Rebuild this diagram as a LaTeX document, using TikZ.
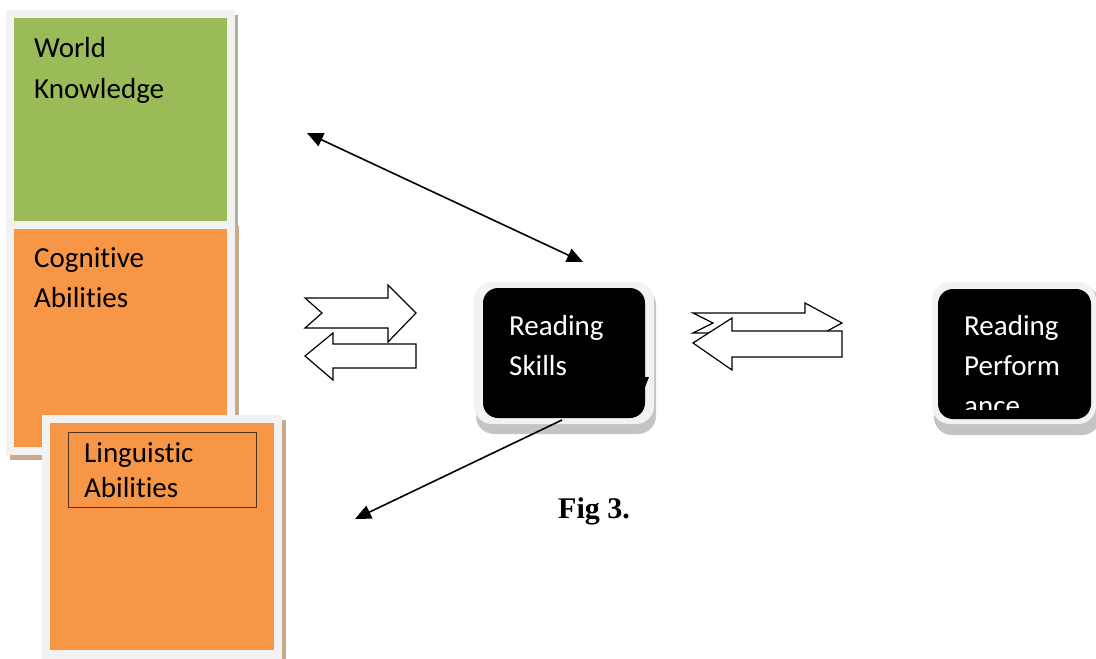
\documentclass[tikz,border=0pt]{standalone}
\usepackage{fontspec}
\setmainfont{Carlito}[Ligatures={NoCommon,NoRequired,NoContextual,NoRare}, RawFeature={-liga;-clig;-dlig}]
\newfontfamily\figfont{Liberation Serif}
\usetikzlibrary{arrows.meta}
\definecolor{wkgreen}{HTML}{9BBB59}
\definecolor{caorange}{HTML}{F79646}
\definecolor{framegray}{HTML}{F2F2F2}
\definecolor{tanshadow}{HTML}{C9A88C}
\definecolor{oliveshadow}{HTML}{A8B39A}
\definecolor{roundshadow}{HTML}{C4C4C4}
\definecolor{innerline}{HTML}{4A3520}
\begin{document}
\begin{tikzpicture}[x=1pt,y=-1pt,
  tile/.style={draw=none, inner sep=0, outer sep=0, anchor=north west},
  rtile/.style={tile, rounded corners=18pt},
  lbl/.style={anchor=base west, inner sep=0, font=\fontsize{29}{35}\selectfont},
  wlbl/.style={lbl, text=white},
  blockarrow/.style={draw=black, fill=white, line width=1.2pt, line join=miter},
  thinarrow/.style={draw=black, line width=1.6pt, >={Triangle[length=16pt,width=14pt]}}
]
\useasboundingbox (0,0) rectangle (1096,659);

% World Knowledge
\node[tile, fill=oliveshadow, minimum width=229pt, minimum height=219pt] (wkshadow) at (9,15) {};
\node[tile, fill=framegray, minimum width=229pt, minimum height=219pt] (wkframe) at (6,10) {};
\node[tile, fill=wkgreen, minimum width=213pt, minimum height=203pt] (wk) at (14,18) {};
\node[lbl] (wkt1) at (34,57) {World};
\node[lbl] (wkt2) at (34,98) {Knowledge};

% Cognitive Abilities
\node[tile, fill=tanshadow, minimum width=229pt, minimum height=234pt] (cashadow) at (10,226) {};
\node[tile, fill=framegray, minimum width=229pt, minimum height=234pt] (caframe) at (6,221) {};
\node[tile, fill=caorange, minimum width=213pt, minimum height=218pt] (ca) at (14,229) {};
\node[lbl] (cat1) at (34,267) {Cognitive};
\node[lbl] (cat2) at (34,307) {Abilities};

% Linguistic Abilities
\node[tile, fill=tanshadow, minimum width=240pt, minimum height=245pt] (lashadow) at (46,420) {};
\node[tile, fill=framegray, minimum width=240pt, minimum height=244pt] (laframe) at (42,415) {};
\node[tile, fill=caorange, minimum width=224pt, minimum height=227pt] (la) at (50,423) {};
\node[tile, draw=innerline, line width=1pt, minimum width=188pt, minimum height=75pt] (lainner) at (68,432) {};
\node[lbl] (lat1) at (84,462) {Linguistic};
\node[lbl] (lat2) at (84,497) {Abilities};

% Reading Skills
\node[rtile, fill=roundshadow, minimum width=180pt, minimum height=147pt] (rsshadow) at (476,287) {};
\node[rtile, fill=framegray, minimum width=180pt, minimum height=142pt] (rsframe) at (474,282) {};
\node[rtile, fill=black, rounded corners=15pt, minimum width=162pt, minimum height=130pt] (rs) at (483,288) {};
\node[wlbl] (rst1) at (509,335) {Reading};
\node[wlbl] (rst2) at (509,375) {Skills};
\fill[black] (642,377) -- (649,377) -- (645,387) -- cycle;

% Reading Performance
\node[rtile, fill=roundshadow, minimum width=166pt, minimum height=149pt] (rpshadow) at (934,286) {};
\node[rtile, fill=framegray, minimum width=164pt, minimum height=142pt] (rpframe) at (932,282) {};
\node[rtile, fill=black, rounded corners=15pt, minimum width=153pt, minimum height=130pt] (rp) at (938,289) {};
\node[wlbl] (rpt1) at (964,335) {Reading};
\node[wlbl] (rpt2) at (964,375) {Perform};
\begin{scope}
\clip (938,289) rectangle (1091,409);
\node[wlbl] (rpt3) at (964,415) {ance};
\end{scope}

% block arrows, left pair
\draw[blockarrow] (305,298) -- (388,298) -- (388,285) -- (416,313) -- (388,342) -- (388,328) -- (305,328) -- (322,313) -- cycle;
\draw[blockarrow] (305,356) -- (333,333) -- (333,344) -- (416,344) -- (416,368) -- (333,368) -- (333,380) -- cycle;

% block arrows, right pair
\draw[blockarrow] (693,313) -- (805,313) -- (805,303) -- (842,323) -- (805,343) -- (805,333) -- (693,333) -- (713,323) -- cycle;
\draw[blockarrow] (693,343) -- (732,318) -- (732,331) -- (842,331) -- (842,357) -- (732,357) -- (732,370) -- cycle;

% thin connectors
\coordinate (ua) at (307,133);
\coordinate (ub) at (583,262);
\draw[thinarrow, <->] (ua) -- (ub);
\coordinate (lstart) at (562,420);
\coordinate (lend) at (355,519);
\draw[thinarrow, ->] (lstart) -- (lend);

% caption
\node[anchor=base west, inner sep=0, font=\figfont\bfseries\fontsize{30}{36}\selectfont] (fig) at (558,518) {Fig 3.};
\end{tikzpicture}
\end{document}
